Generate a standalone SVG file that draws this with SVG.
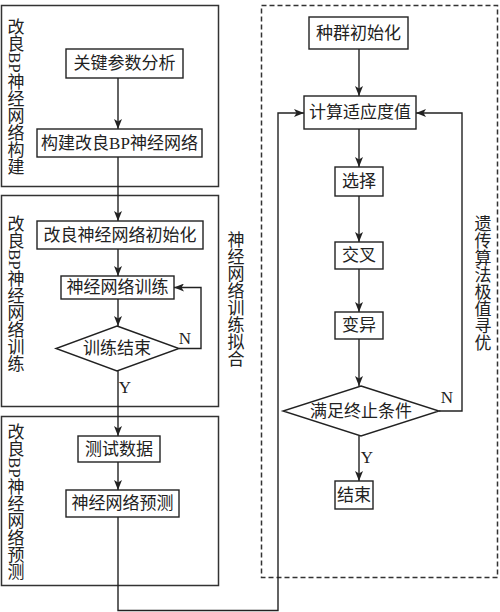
<svg xmlns="http://www.w3.org/2000/svg" width="500" height="612" viewBox="0 0 500 612">
<defs>
<marker id="ah" viewBox="0 0 10 8" refX="10" refY="4" markerWidth="10" markerHeight="8" markerUnits="userSpaceOnUse" orient="auto">
<path d="M0,0 L10,4 L0,8 L2.5,4 z" fill="#222"/>
</marker>
</defs>
<style>
text{font-family:"Liberation Serif","Noto Sans CJK SC",serif;font-size:17px;fill:#222;}
.c{text-anchor:middle;dominant-baseline:central;}
.v{writing-mode:vertical-rl;}
.box{fill:#fff;stroke:#222;stroke-width:1.4;}
.frame{fill:none;stroke:#333;stroke-width:1.5;}
.dash{fill:none;stroke:#333;stroke-width:1.5;stroke-dasharray:5,3;}
.ln{fill:none;stroke:#222;stroke-width:1.4;}
</style>
<rect width="500" height="612" fill="#fff"/>
<g id="frames">
<rect class="frame" x="1.5" y="5.5" width="217" height="181"/>
<rect class="frame" x="1.5" y="195.5" width="217" height="211"/>
<rect class="frame" x="1.5" y="416.5" width="217" height="169"/>
<rect class="dash" x="261.5" y="5.5" width="236" height="572"/>
<text class="v" x="14" y="18">改良BP神经网络构建</text>
<text class="v" x="14" y="215">改良BP神经网络训练</text>
<text class="v" x="14" y="423">改良BP神经网络预测</text>
<text class="v" x="234" y="231">神经网络训练拟合</text>
<text class="v" x="481" y="215">遗传算法极值寻优</text>
</g>
<g id="connectors">
<path class="ln" d="M118,78 V129" marker-end="url(#ah)"/>
<path class="ln" d="M118,157 V221" marker-end="url(#ah)"/>
<path class="ln" d="M118,249 V276" marker-end="url(#ah)"/>
<path class="ln" d="M118,299 V326" marker-end="url(#ah)"/>
<path class="ln" d="M118,371 V436" marker-end="url(#ah)"/>
<path class="ln" d="M118,462 V490" marker-end="url(#ah)"/>
<path class="ln" d="M118,517 V610.5 H278 V113 H304" marker-end="url(#ah)"/>
<path class="ln" d="M179,348.5 H201 V287.5 H174" marker-end="url(#ah)"/>
<path class="ln" d="M359,49 V96" marker-end="url(#ah)"/>
<path class="ln" d="M359,129 V167" marker-end="url(#ah)"/>
<path class="ln" d="M359,196 V242" marker-end="url(#ah)"/>
<path class="ln" d="M359,269 V312" marker-end="url(#ah)"/>
<path class="ln" d="M359,339 V386" marker-end="url(#ah)"/>
<path class="ln" d="M359,436 V481" marker-end="url(#ah)"/>
<path class="ln" d="M439,411 H462 V113 H416" marker-end="url(#ah)"/>
<text class="c" x="185" y="338">N</text>
<text class="c" x="125" y="387">Y</text>
<text class="c" x="447" y="397">N</text>
<text class="c" x="367" y="457">Y</text>
</g>
<g id="n1"><rect class="box" x="66" y="49" width="117" height="29"/><text class="c" x="124.5" y="63.5">关键参数分析</text></g>
<g id="n2"><rect class="box" x="37" y="129" width="165" height="28"/><text class="c" x="119.5" y="143">构建改良BP神经网络</text></g>
<g id="n3"><rect class="box" x="37" y="221" width="166" height="28"/><text class="c" x="120" y="235">改良神经网络初始化</text></g>
<g id="n4"><rect class="box" x="61" y="276" width="113" height="23"/><text class="c" x="117.5" y="287.5">神经网络训练</text></g>
<g id="n5"><polygon class="box" points="117,326 179,348.5 117,371 56,348.5"/><text class="c" x="117" y="348.5">训练结束</text></g>
<g id="n6"><rect class="box" x="78" y="436" width="82" height="26"/><text class="c" x="119" y="449">测试数据</text></g>
<g id="n7"><rect class="box" x="66" y="490" width="113" height="27"/><text class="c" x="122.5" y="503.5">神经网络预测</text></g>
<g id="n8"><rect class="box" x="309" y="17" width="99" height="32"/><text class="c" x="358.5" y="33">种群初始化</text></g>
<g id="n9"><rect class="box" x="304" y="96" width="112" height="33"/><text class="c" x="360" y="112.5">计算适应度值</text></g>
<g id="n10"><rect class="box" x="335" y="167" width="48" height="29"/><text class="c" x="359" y="181.5">选择</text></g>
<g id="n11"><rect class="box" x="335" y="242" width="48" height="27"/><text class="c" x="359" y="255.5">交叉</text></g>
<g id="n12"><rect class="box" x="335" y="312" width="48" height="27"/><text class="c" x="359" y="325.5">变异</text></g>
<g id="n13"><polygon class="box" points="361,386 439,411 361,436 283,411"/><text class="c" x="361" y="411">满足终止条件</text></g>
<g id="n14"><rect class="box" x="335" y="481" width="38" height="28"/><text class="c" x="354" y="495">结束</text></g>
</svg>
